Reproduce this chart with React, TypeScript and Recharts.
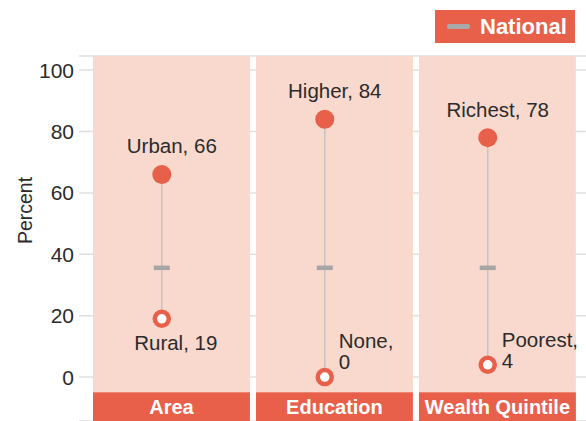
import React from 'react';
import {
  ComposedChart,
  Scatter,
  XAxis,
  YAxis,
  CartesianGrid,
  ReferenceArea,
  ReferenceLine,
  Legend,
} from 'recharts';

const categories = ['Area', 'Education', 'Wealth Quintile'];
const highNames = ['Urban', 'Higher', 'Richest'];
const highValues = [66, 84, 78];
const lowNames = ['Rural', 'None', 'Poorest'];
const lowValues = [19, 0, 4];
const nationalValues = [35.6, 35.6, 35.6];
const yTicks = [0, 20, 40, 60, 80, 100];

const RED = '#e8604a';
const PINK = '#f9d9cd';
const TEXT = '#2b2b2b';
const FONT = '"Liberation Sans", Arial, sans-serif';

// each group takes one unit on the hidden x axis
const PANEL_W = 0.963;
const DOT_X = 0.422;
const X_DOMAIN = [-0.086, 3.025];
const Y_DOMAIN = [-14.3, 104.6];
const PANEL_BOTTOM = -4.9;

const highData = categories.map((c, i) => ({ x: i + DOT_X, y: highValues[i], name: highNames[i] }));
const lowData = categories.map((c, i) => ({ x: i + DOT_X, y: lowValues[i], name: lowNames[i] }));
const nationalData = categories.map((c, i) => ({ x: i + DOT_X, y: nationalValues[i] }));

const HighDot = (props: any) => {
  const { cx, cy, payload } = props;
  return (
    <g>
      <circle cx={cx} cy={cy} r={9.5} fill={RED} />
      <text x={cx + 10} y={cy - 21} textAnchor="middle" fontSize={20.5} fill={TEXT} fontFamily={FONT}>
        {`${payload.name}, ${payload.y}`}
      </text>
    </g>
  );
};

const LowDot = (props: any) => {
  const { cx, cy, payload } = props;
  const side = payload.y < 10;
  const base = Math.min(cy, 366) + 3;
  return (
    <g>
      <circle cx={cx} cy={cy} r={7} fill="#fff" stroke={RED} strokeWidth={4.5} />
      {side ? (
        <text x={cx + 14} y={base - 21} fontSize={20.5} fill={TEXT} fontFamily={FONT}>
          <tspan x={cx + 14}>{`${payload.name},`}</tspan>
          <tspan x={cx + 14} dy={21}>{payload.y}</tspan>
        </text>
      ) : (
        <text x={cx + 14} y={cy + 31} textAnchor="middle" fontSize={20.5} fill={TEXT} fontFamily={FONT}>
          {`${payload.name}, ${payload.y}`}
        </text>
      )}
    </g>
  );
};

const NationalDash = (props: any) => {
  const { cx, cy } = props;
  return <rect x={cx - 8} y={cy - 2.25} width={16} height={4.5} fill="#a6a6a6" />;
};

const PercentLabel = (props: any) => {
  const { viewBox } = props;
  const x = viewBox.x + 32;
  const y = viewBox.y + viewBox.height / 2 - 28;
  return (
    <text x={x} y={y} transform={`rotate(-90, ${x}, ${y})`} textAnchor="middle" fontSize={19.5} fill={TEXT} fontFamily={FONT}>
      Percent
    </text>
  );
};

const LegendBox = () => (
  <div
    style={{
      background: RED,
      width: 140,
      height: 33,
      display: 'flex',
      alignItems: 'center',
      fontFamily: FONT,
    }}
  >
    <span style={{ display: 'inline-block', width: 23, height: 5.5, background: '#a9a9a9', marginLeft: 12, borderRadius: 2 }} />
    <span style={{ color: '#fff', fontSize: 22, fontWeight: 700, marginLeft: 10 }}>National</span>
  </div>
);

export default function App() {
  return (
    <div style={{ position: 'absolute', left: 0, top: 0 }}>
      <ComposedChart width={586} height={421} margin={{ top: 56, right: 0, bottom: 0, left: 0 }}>
        <CartesianGrid vertical={false} stroke="#e0e0e0" strokeWidth={1.5} />
        <XAxis type="number" dataKey="x" domain={X_DOMAIN} allowDataOverflow hide />
        <YAxis
          type="number"
          domain={Y_DOMAIN}
          ticks={yTicks}
          allowDataOverflow
          width={79}
          axisLine={false}
          tickLine={false}
          tickSize={0}
          tickMargin={5}
          tick={{ fontSize: 21, fill: TEXT, fontFamily: FONT }}
          label={{ value: 'Percent', position: 'center', content: PercentLabel }}
        />
        {categories.map((c, i) => (
          <ReferenceArea
            key={`p-${c}`}
            x1={i}
            x2={i + PANEL_W}
            y1={PANEL_BOTTOM}
            y2={Y_DOMAIN[1]}
            fill={PINK}
            fillOpacity={1}
            stroke="none"
          />
        ))}
        {categories.map((c, i) => (
          <ReferenceArea
            key={`h-${c}`}
            x1={i}
            x2={i + PANEL_W}
            y1={Y_DOMAIN[0]}
            y2={PANEL_BOTTOM}
            fill={RED}
            fillOpacity={1}
            stroke="none"
            label={{ value: c, position: 'center', fill: '#fff', fontSize: 20, fontWeight: 700, fontFamily: FONT }}
          />
        ))}
        {categories.map((c, i) => (
          <ReferenceLine
            key={`l-${c}`}
            segment={[
              { x: i + DOT_X, y: lowValues[i] },
              { x: i + DOT_X, y: highValues[i] },
            ]}
            stroke="#c4c4c4"
            strokeWidth={1.5}
          />
        ))}
        <Scatter name="National" data={nationalData} dataKey="y" shape={NationalDash} isAnimationActive={false} />
        <Scatter name="Low" data={lowData} dataKey="y" shape={LowDot} isAnimationActive={false} />
        <Scatter name="High" data={highData} dataKey="y" shape={HighDot} isAnimationActive={false} />
        <Legend
          layout="horizontal"
          verticalAlign="middle"
          align="center"
          content={LegendBox}
          wrapperStyle={{ position: 'absolute', top: 10, left: 435, width: 140 }}
        />
      </ComposedChart>
    </div>
  );
}
